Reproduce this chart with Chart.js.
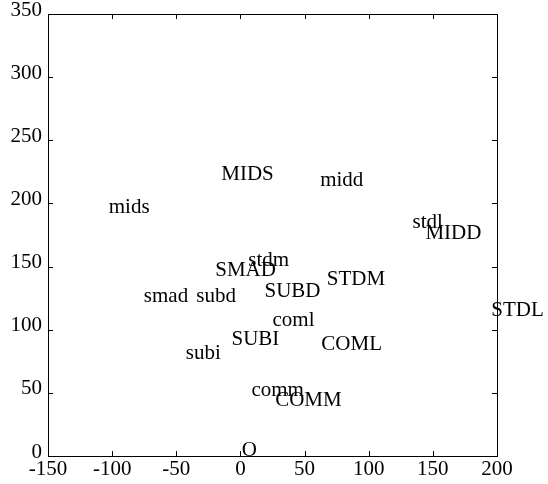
<!DOCTYPE html>
<html>
<head>
<meta charset="utf-8">
<script src="https://cdn.jsdelivr.net/npm/chart.js@4"></script>
<style>
  body { margin: 0; background: #fff; }
  #wrap { width: 548px; height: 484px; }
</style>
</head>
<body>
<div id="wrap"><canvas id="MyChart"></canvas></div>
<script>
var names = ['MIDS', 'midd', 'mids', 'stdl', 'MIDD', 'stdm', 'SMAD', 'STDM', 'smad', 'subd',
  'SUBD', 'coml', 'SUBI', 'COML', 'subi', 'comm', 'COMM', 'O', 'STDL'];
var xValues = [5.5, 79, -86.7, 146, 166, 22, 4, 90, -58, -19, 40.6, 41.4, 11.7, 86.7, -29, 29, 53, 7, 216];
var yValues = [223, 218.5, 197, 185, 176, 155, 147, 140, 126, 126, 130.6, 107, 92.6, 88.7, 81, 51.5, 44, 4, 115];

var points = xValues.map(function (x, i) {
  return { x: x, y: yValues[i] };
});

// text at each point + boxed frame with inward ticks
var labelPlugin = {
  id: 'labelPlugin',
  afterDatasetsDraw: function (chart) {
    var ctx = chart.ctx;
    var meta = chart.getDatasetMeta(0);
    ctx.save();
    ctx.fillStyle = '#000';
    ctx.font = '21px "Liberation Serif"';
    ctx.textAlign = 'center';
    ctx.textBaseline = 'middle';
    meta.data.forEach(function (pt, i) {
      ctx.fillText(names[i], pt.x, pt.y);
    });
    ctx.restore();
  },
  afterDraw: function (chart) {
    var ctx = chart.ctx;
    var a = chart.chartArea;
    var xs = chart.scales.x;
    var ys = chart.scales.y;
    ctx.save();
    ctx.strokeStyle = '#000';
    ctx.lineWidth = 1;
    ctx.strokeRect(a.left + 0.5, a.top + 0.5, a.right - a.left, a.bottom - a.top);
    ctx.beginPath();
    xs.ticks.forEach(function (t) {
      var px = Math.round(xs.getPixelForValue(t.value)) + 0.5;
      ctx.moveTo(px, a.bottom); ctx.lineTo(px, a.bottom - 5);
      ctx.moveTo(px, a.top); ctx.lineTo(px, a.top + 5);
    });
    ys.ticks.forEach(function (t) {
      var py = Math.round(ys.getPixelForValue(t.value)) + 0.5;
      ctx.moveTo(a.left, py); ctx.lineTo(a.left + 5, py);
      ctx.moveTo(a.right, py); ctx.lineTo(a.right - 5, py);
    });
    ctx.stroke();
    ctx.restore();
  }
};

var ctx = document.getElementById('MyChart').getContext('2d');
var chartObject = new Chart(ctx, {
  type: 'scatter',
  data: {
    datasets: [
      {
        data: points,
        pointRadius: 0,
        showLine: false,
        clip: false,
      },
    ],
  },
  options: {
    responsive: true,
    maintainAspectRatio: false,
    animation: false,
    layout: {
      padding: { top: 14, right: 51, left: 0, bottom: 0 },
    },
    scales: {
      x: {
        type: 'linear',
        min: -150,
        max: 200,
        afterFit: function (scale) { scale.height = 28; },
        ticks: {
          stepSize: 50,
          color: '#000',
          padding: -7,
          maxRotation: 0,
          font: { family: 'Liberation Serif', size: 21 },
        },
        grid: { display: false },
        border: { display: false },
      },
      y: {
        type: 'linear',
        min: 0,
        max: 350,
        afterFit: function (scale) { scale.width = 48; },
        ticks: {
          stepSize: 50,
          color: '#000',
          padding: -2,
          labelOffset: -4,
          font: { family: 'Liberation Serif', size: 21 },
        },
        grid: { display: false },
        border: { display: false },
      },
    },
    plugins: {
      legend: { display: false },
      tooltip: { enabled: false },
    },
  },
  plugins: [labelPlugin],
});
</script>
</body>
</html>
